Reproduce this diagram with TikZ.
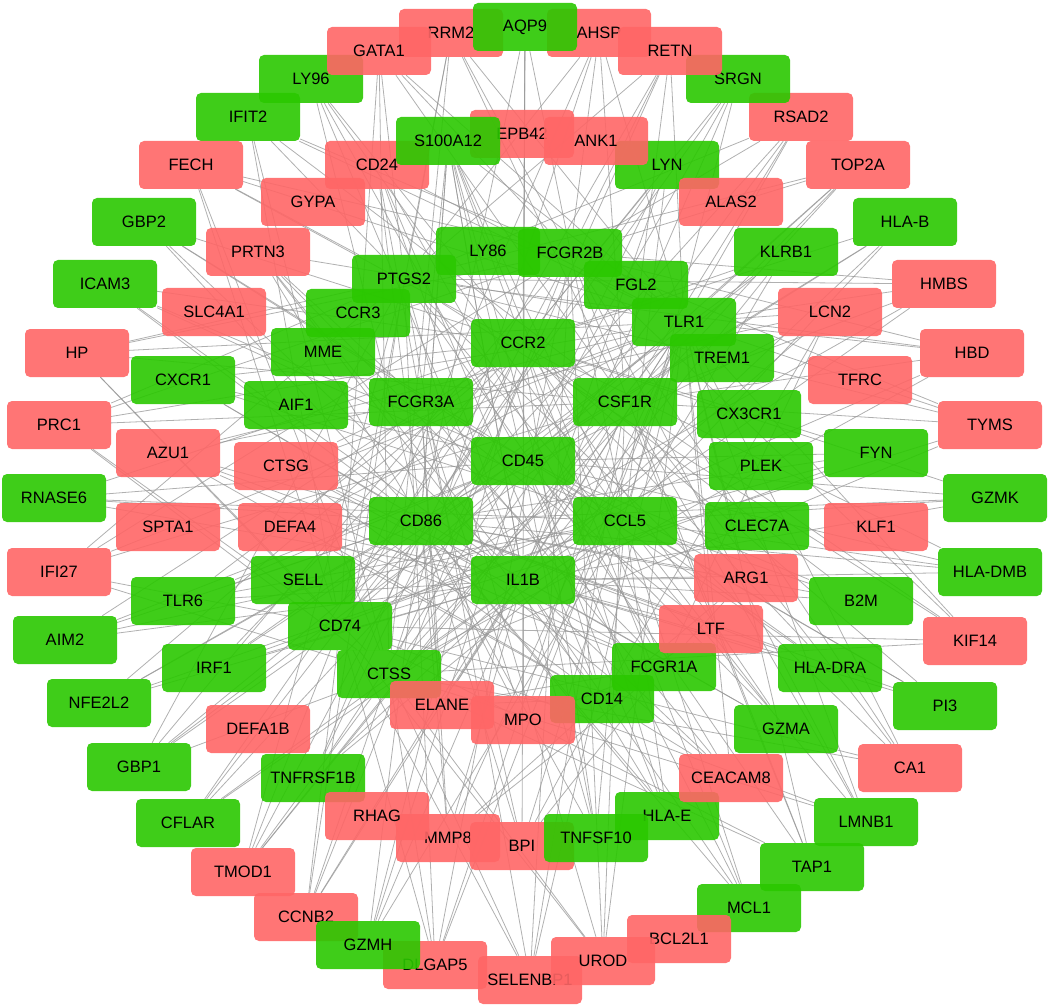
\documentclass[tikz,border=0pt]{standalone}
\usepackage{fontspec}
\setmainfont{Liberation Sans}
\usepackage{tikz}
\definecolor{downgreen}{RGB}{42,200,0}
\definecolor{upred}{RGB}{255,102,102}
\definecolor{linkgray}{RGB}{150,150,150}
\pgfdeclarelayer{links}
\pgfsetlayers{links,main}

\def\immune{ccr2,cd45,il1b,cd86,ccl5,fcgr3a,csf1r,tlr1,trem1,cx3cr1,plek,clec7a,aif1,mme,ccr3,ptgs2,ly86,fcgr2b,fgl2,sell,cd74,ctss,fcgr1a,cd14}
\def\granule{elane,mpo,ctsg,defa4,azu1,prtn3,defa1b,ltf,bpi,mmp8,ceacam8,lcn2,arg1,s100a12,cd24}
\def\erythro{gata1,ahsp,epb42,ank1,alas2,gypa,slc4a1,spta1,rhag,hbd,hmbs,klf1,tfrc,fech,tmod1,selenbp1,urod,ca1,hp}
\def\cellcycle{rrm2,top2a,prc1,tyms,kif14,ccnb2,dlgap5,lmnb1}
\def\antigen{ifit2,rsad2,ifi27,gbp1,gbp2,irf1,tap1,b2m,hlab,hlae,hladra,hladmb,icam3}
\def\apopt{cflar,mcl1,bcl2l1,tnfsf10,tnfrsf1b,nfe2l2,aim2,pi3}
\def\lympho{gzma,gzmk,gzmh,klrb1,fyn,lyn,ccl5,srgn,hladmb,cd74}

\begin{document}
\begin{tikzpicture}[x=1pt,y=-1pt]
\tikzstyle{gene}=[rectangle, rounded corners=5pt, minimum width=104pt, minimum height=48pt, inner sep=0pt, fill opacity=0.9, text opacity=1, font=\fontsize{16.5}{18}\selectfont]
\tikzstyle{downgene}=[gene, fill=downgreen]
\tikzstyle{upgene}=[gene, fill=upred]
\tikzstyle{link}=[draw=linkgray, line width=0.8pt, opacity=0.75]
\useasboundingbox (0,0) rectangle (1052,1008);

\node [downgene] (ifit2) at (248,117) {IFIT2};
\node [downgene] (ly96) at (311,79) {LY96};
\node [upgene] (rrm2) at (451,33) {RRM2};
\node [upgene] (ahsp) at (599,33) {AHSP};
\node [downgene] (aqp9) at (525,27) {AQP9};
\node [upgene] (gata1) at (379,51) {GATA1};
\node [upgene] (rsad2) at (801,117) {RSAD2};
\node [downgene] (srgn) at (738,79) {SRGN};
\node [upgene] (retn) at (670,51) {RETN};
\node [upgene] (fech) at (191,165) {FECH};
\node [upgene] (top2a) at (858,165) {TOP2A};
\node [downgene] (gbp2) at (144,222) {GBP2};
\node [downgene] (hlab) at (905,222) {HLA-B};
\node [downgene] (icam3) at (105,284) {ICAM3};
\node [upgene] (hmbs) at (944,284) {HMBS};
\node [upgene] (hp) at (77,353) {HP};
\node [upgene] (hbd) at (972,353) {HBD};
\node [upgene] (prc1) at (59,425) {PRC1};
\node [upgene] (tyms) at (990,425) {TYMS};
\node [downgene] (rnase6) at (54,498) {RNASE6};
\node [downgene] (gzmk) at (995,498) {GZMK};
\node [upgene] (ifi27) at (59,572) {IFI27};
\node [downgene] (hladmb) at (990,572) {HLA-DMB};
\node [downgene] (aim2) at (65,640) {AIM2};
\node [upgene] (kif14) at (975,641) {KIF14};
\node [downgene] (nfe2l2) at (99,703) {NFE2L2};
\node [downgene] (pi3) at (945,706) {PI3};
\node [downgene] (gbp1) at (139,767) {GBP1};
\node [upgene] (ca1) at (910,768) {CA1};
\node [downgene] (cflar) at (188,823) {CFLAR};
\node [downgene] (lmnb1) at (866,822) {LMNB1};
\node [upgene] (tmod1) at (243,872) {TMOD1};
\node [downgene] (mcl1) at (749,908) {MCL1};
\node [downgene] (tap1) at (812,867) {TAP1};
\node [upgene] (ccnb2) at (306,917) {CCNB2};
\node [upgene] (dlgap5) at (435,965) {DLGAP5};
\node [downgene] (gzmh) at (368,945) {GZMH};
\node [upgene] (selenbp1) at (530,980) {SELENBP1};
\node [upgene] (bcl2l1) at (679,939) {BCL2L1};
\node [upgene] (urod) at (603,961) {UROD};

\node [upgene] (gypa) at (313,202) {GYPA};
\node [upgene] (cd24) at (377,165) {CD24};
\node [upgene] (epb42) at (522,134) {EPB42};
\node [downgene] (s100a12) at (448,141) {S100A12};
\node [downgene] (lyn) at (667,165) {LYN};
\node [upgene] (ank1) at (596,141) {ANK1};
\node [upgene] (alas2) at (731,202) {ALAS2};
\node [upgene] (prtn3) at (258,252) {PRTN3};
\node [downgene] (klrb1) at (786,252) {KLRB1};
\node [upgene] (slc4a1) at (214,312) {SLC4A1};
\node [upgene] (lcn2) at (830,312) {LCN2};
\node [downgene] (cxcr1) at (183,380) {CXCR1};
\node [upgene] (tfrc) at (860,380) {TFRC};
\node [upgene] (azu1) at (168,453) {AZU1};
\node [downgene] (fyn) at (876,453) {FYN};
\node [upgene] (spta1) at (168,527) {SPTA1};
\node [upgene] (klf1) at (876,527) {KLF1};
\node [downgene] (tlr6) at (183,601) {TLR6};
\node [upgene] (arg1) at (746,578) {ARG1};
\node [downgene] (b2m) at (861,601) {B2M};
\node [downgene] (irf1) at (214,668) {IRF1};
\node [downgene] (hladra) at (830,668) {HLA-DRA};
\node [upgene] (defa1b) at (258,729) {DEFA1B};
\node [downgene] (gzma) at (786,729) {GZMA};
\node [downgene] (tnfrsf1b) at (313,778) {TNFRSF1B};
\node [upgene] (mmp8) at (448,838) {MMP8};
\node [upgene] (rhag) at (377,816) {RHAG};
\node [upgene] (bpi) at (522,846) {BPI};
\node [downgene] (hlae) at (667,816) {HLA-E};
\node [upgene] (ceacam8) at (731,778) {CEACAM8};
\node [downgene] (tnfsf10) at (596,838) {TNFSF10};

\node [downgene] (ly86) at (488,251) {LY86};
\node [downgene] (fcgr2b) at (570,253) {FCGR2B};
\node [downgene] (ptgs2) at (404,279) {PTGS2};
\node [downgene] (fgl2) at (636,285) {FGL2};
\node [downgene] (ccr3) at (358,313) {CCR3};
\node [downgene] (mme) at (323,352) {MME};
\node [downgene] (tlr1) at (684,322) {TLR1};
\node [downgene] (trem1) at (722,358) {TREM1};
\node [downgene] (ccr2) at (523,343) {CCR2};
\node [downgene] (aif1) at (296,405) {AIF1};
\node [downgene] (fcgr3a) at (421,402) {FCGR3A};
\node [downgene] (csf1r) at (625,402) {CSF1R};
\node [downgene] (cx3cr1) at (749,414) {CX3CR1};
\node [upgene] (ctsg) at (286,466) {CTSG};
\node [downgene] (cd45) at (523,461) {CD45};
\node [downgene] (plek) at (761,466) {PLEK};
\node [upgene] (defa4) at (290,527) {DEFA4};
\node [downgene] (cd86) at (421,521) {CD86};
\node [downgene] (ccl5) at (625,521) {CCL5};
\node [downgene] (clec7a) at (757,526) {CLEC7A};
\node [downgene] (sell) at (303,580) {SELL};
\node [downgene] (il1b) at (523,580) {IL1B};
\node [downgene] (cd74) at (340,626) {CD74};
\node [downgene] (ctss) at (389,674) {CTSS};
\node [upgene] (elane) at (442,705) {ELANE};
\node [downgene] (fcgr1a) at (664,667) {FCGR1A};
\node [upgene] (ltf) at (711,629) {LTF};
\node [downgene] (cd14) at (602,699) {CD14};
\node [upgene] (mpo) at (523,720) {MPO};

\begin{pgfonlayer}{links}
\foreach \grp in {\immune,\granule,\erythro,\cellcycle,\antigen,\apopt,\lympho} {
  \foreach \a [count=\i] in \grp {
    \foreach \b [count=\j] in \grp {
      \ifnum\j>\i \draw [link] (\a) -- (\b); \fi
    }
  }
}
\foreach \h in {cd45,il1b,ccl5,cd86,ccr2}
  \foreach \t in {lyn,srgn,ly96,aqp9,klrb1,hlab,fyn,gzmk,gzma,gzmh,b2m,hladra,hlae,tnfsf10,tnfrsf1b,mcl1,cflar,nfe2l2,aim2,tlr6,irf1,cxcr1,icam3,gbp2,s100a12,pi3,rnase6,hladmb}
    \draw [link] (\h) -- (\t);
\foreach \h in {il1b,cd14,fcgr3a,fcgr1a,cd86,tlr1}
  \foreach \t in {elane,mpo,ltf,arg1,lcn2,s100a12,ctsg,mmp8,ceacam8,defa4,azu1,prtn3,bpi,cd24}
    \draw [link] (\h) -- (\t);
\foreach \h in {ptgs2,tlr1,cd74,ctss,fcgr2b,csf1r}
  \foreach \t in {fech,hp,prc1,ifi27,top2a,tyms,kif14,ca1,hmbs,hbd,tmod1,selenbp1,dlgap5,urod,ccnb2,rrm2,gata1,ahsp,retn,rsad2,ifit2,gbp1,lmnb1,tap1}
    \draw [link] (\h) -- (\t);
\end{pgfonlayer}
\end{tikzpicture}
\end{document}
